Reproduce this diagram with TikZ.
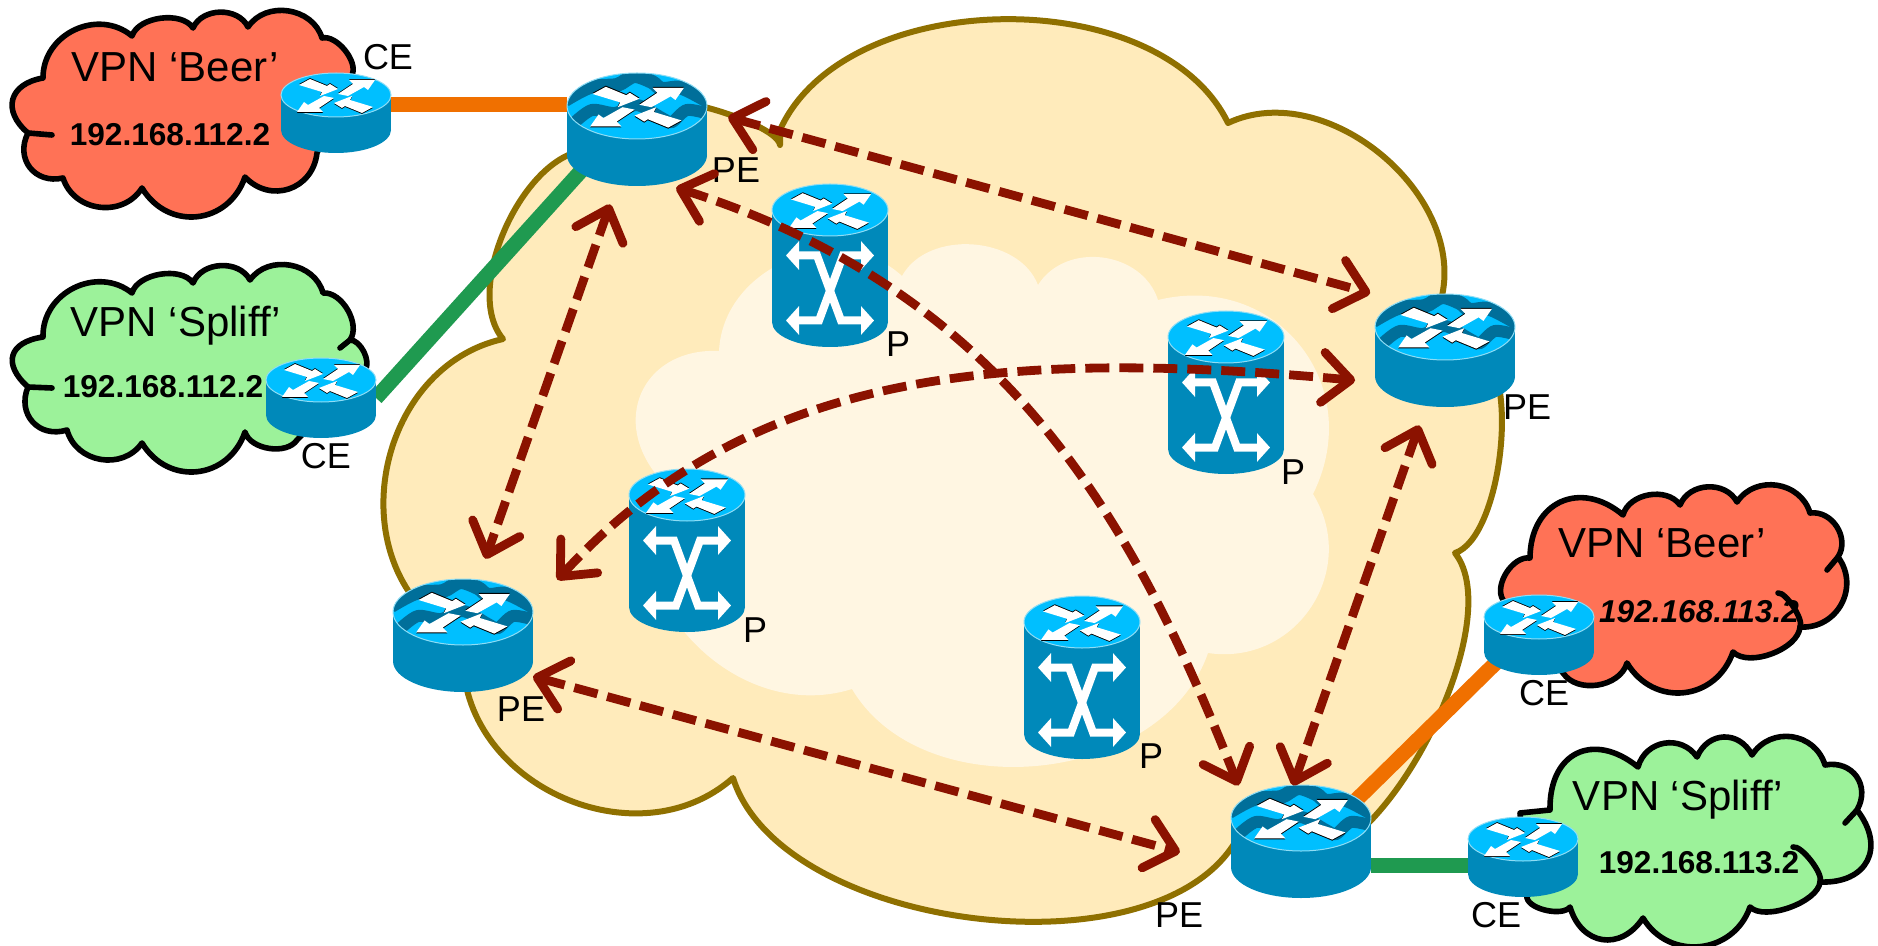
\documentclass[tikz,border=0pt]{standalone}
\usepackage{fontspec}
\setmainfont{Liberation Sans}
\usetikzlibrary{arrows.meta}
\definecolor{coretan}{HTML}{FFEBBB}
\definecolor{coreedge}{HTML}{8F7000}
\definecolor{coreinner}{HTML}{FFF6E2}
\definecolor{vpnred}{HTML}{FF7256}
\definecolor{vpngreen}{HTML}{9CF29A}
\definecolor{linkorange}{HTML}{F07000}
\definecolor{linkgreen}{HTML}{1F9A50}
\definecolor{routertop}{HTML}{00BFFF}
\definecolor{routerside}{HTML}{0089BA}
\definecolor{routerwave}{HTML}{006F9A}
\definecolor{routerrim}{HTML}{8FDDF5}
\definecolor{dashred}{HTML}{8B1200}
\newcommand{\fourarrows}{%
  \foreach \turn/\dy in {0/0,180/-2} {
    \begin{scope}[rotate=\turn,shift={(0,\dy)}]
      \fill[black,shift={(0,-0.9)}] (-37,-10) -- (-26,-16) -- (-9,-9) -- (-6,-11) -- (2,-6) -- (-16,1) -- (-14,-3) -- cycle;
      \fill[white] (-37,-10) -- (-26,-16) -- (-9,-9) -- (-6,-11) -- (2,-6) -- (-16,1) -- (-14,-3) -- cycle;
      \fill[black,shift={(0,-0.9)}] (2,-1) -- (17,-11) -- (13,-15) -- (39,-15) -- (32,-5) -- (28,-8) -- (12,1) -- cycle;
      \fill[white] (2,-1) -- (17,-11) -- (13,-15) -- (39,-15) -- (32,-5) -- (28,-8) -- (12,1) -- cycle;
    \end{scope}
  }%
}
\tikzset{
  lobe/.style={bend left=65,looseness=#1},
  lobe/.default=1.2,
  corecloud/.style={fill=coretan,draw=coreedge,line width=3pt,line join=round},
  redcloud/.style={fill=vpnred,draw=black,line width=2.8pt,line join=round},
  greencloud/.style={fill=vpngreen,draw=black,line width=2.8pt,line join=round},
  blacktail/.style={draw=black,line width=2.8pt,line cap=round},
  thicklink/.style={line width=7.5pt},
  vpnlink/.style={draw=dashred,line width=4.4pt,dash pattern=on 12pt off 5pt,
    >={Straight Barb[length=14pt,width=25pt,round]},<->},
  vpntext/.style={anchor=base,inner sep=0pt,font=\fontsize{21}{24}\selectfont},
  iptext/.style={anchor=base,inner sep=0pt,font=\fontsize{15.8}{18}\selectfont\bfseries},
  roletext/.style={anchor=base,inner sep=0pt,font=\fontsize{18}{20}\selectfont},
  pebox/.style={inner sep=0pt,outer sep=0pt,minimum width=70pt,minimum height=56.5pt},
  cebox/.style={inner sep=0pt,outer sep=0pt,minimum width=55pt,minimum height=39.5pt},
  pbox/.style={inner sep=0pt,outer sep=0pt,minimum width=58pt,minimum height=81.5pt},
  cerouter/.pic={
    \fill[routerside] (0,17) ellipse [x radius=55,y radius=23];
    \fill[routerside] (-55,-18) rectangle (55,17);
    \draw[routerrim,line width=0.5pt,fill=routertop] (0,-18) ellipse [x radius=55,y radius=22];
    \begin{scope}[shift={(0,-18)}]
      \fourarrows
    \end{scope}
  },
  perouter/.pic={
    \fill[routerside] (0,25) ellipse [x radius=70,y radius=31];
    \fill[routerside] (-70,-24) rectangle (70,25);
    \fill[routertop] (0,-24) ellipse [x radius=70,y radius=33];
    \begin{scope}
      \clip (0,-24) ellipse [x radius=70,y radius=33];
      \draw[routerwave,line width=7pt] plot[smooth] coordinates {(-72,-30) (-47,-43) (-20,-45) (-3,-54) (15,-48) (25,-41) (45,-42) (72,-28)};
      \draw[routerwave,line width=6pt] plot[smooth] coordinates {(-62,-8) (-45,-20) (-22,-17) (0,-25) (25,-12) (35,-8) (50,-20) (72,-16)};
    \end{scope}
    \draw[routerrim,line width=0.5pt] (0,-24) ellipse [x radius=70,y radius=33];
    \begin{scope}[shift={(0,-24)},scale=1.2]
      \fourarrows
    \end{scope}
  },
  prouter/.pic={
    \fill[routerside] (0,56.5) ellipse [x radius=58,y radius=25];
    \fill[routerside] (-58,-55.5) rectangle (58,56.5);
    \draw[routerrim,line width=0.5pt,fill=routertop] (0,-55.5) ellipse [x radius=58,y radius=26];
    \begin{scope}[shift={(0,-55.5)},scale=1.05]
      \fourarrows
    \end{scope}
    \draw[white,line width=4pt,{Triangle[length=6.5pt,width=14pt]}-{Triangle[length=6.5pt,width=14pt]}]
      (-44,-10) -- (-13,-10) -- (11,55) -- (44,55);
    \draw[white,line width=4pt,{Triangle[length=6.5pt,width=14pt]}-{Triangle[length=6.5pt,width=14pt]}]
      (44,-10) -- (13,-10) -- (-11,55) -- (-44,55);
  }
}
\begin{document}
\begin{tikzpicture}[x=0.5pt,y=-0.5pt]
  \useasboundingbox (0,0) rectangle (1878,946);

  \draw[corecloud] (780,130) to[lobe=0.9] (1228,123) to[lobe=1] (1441,300)
    -- (1480,350) to[lobe=0.6] (1455,553) to[lobe=0.65] (1300,860)
    -- (1234,844) to[lobe=0.8] (733,778) to[lobe=1.1] (463,660)
    -- (440,625) to[lobe=1.1] (503,339) to[lobe=0.8] (590,150)
    -- (650,105) to[lobe=0.4] (780,145) -- cycle;
  \fill[coreinner] (719,351) to[lobe=1.1] (902,276) to[lobe=1] (1038,285) to[lobe=1.1] (1158,300)
    to[lobe=1.25] (1313,494) to[lobe=1.2] (1208,653) to[lobe=1] (852,689)
    to[lobe=1.1] (655,473) to[lobe=1.35] (719,351) -- cycle;

  \draw[redcloud] (43,78) to[lobe=1.15] (132,36) to[lobe=0.85] (193,28) to[lobe=1.05] (248,27)
    to[lobe=1.1] (322,38) to[lobe=0.8] (352,75) -- (317,153) to[lobe=1.25] (245,177)
    to[lobe=1.25] (142,188) to[lobe=1.15] (63,178) to[lobe=1.3] (28,133) to[lobe=1.55] (43,78) -- cycle;
  \draw[blacktail] (28,133) -- (52,135);
  \draw[greencloud] (43,337) to[lobe=1.15] (132,293) to[lobe=0.85] (193,283) to[lobe=1.05] (250,280)
    to[lobe=1.1] (323,293) to[lobe=0.9] (350,340) to[lobe=0.8] (365,370) -- (297,440) to[lobe=0.9] (245,432)
    to[lobe=1.25] (142,443) to[lobe=1.15] (67,430) to[lobe=1.3] (28,387) to[lobe=1.7] (43,337) -- cycle;
  \draw[blacktail] (28,387) -- (52,388);
  \draw[blacktail] (340,348) -- (350,340);
  \draw[redcloud] (1530,558) to[lobe=1.4] (1623,515) to[lobe=1] (1680,505) to[lobe=1.1] (1737,502)
    to[lobe=1.15] (1810,513) to[lobe=1.1] (1838,557) to[lobe=1.2] (1800,627) to[lobe=0.8] (1733,652)
    to[lobe=1.25] (1627,663) to[lobe=1] (1563,673) -- (1503,600) to[lobe=0.9] (1530,558) -- cycle;
  \draw[blacktail] (1827,570) -- (1838,557);
  \draw[blacktail] (1778,593) to[lobe=0.5] (1800,627);
  \draw[greencloud] (1550,810) to[lobe=1.5] (1638,767) to[lobe=1.2] (1697,757) to[lobe=1.3] (1752,755)
    to[lobe=1.2] (1825,765) to[lobe=1.3] (1857,810) to[lobe=1.5] (1820,882) to[lobe=0.7] (1750,907)
    to[lobe=1.2] (1643,918) to[lobe=1.4] (1570,907) to[lobe=0.7] (1527,898) -- (1520,813) -- cycle;
  \draw[blacktail] (1845,823) -- (1857,810);
  \draw[blacktail] (1793,847) to[lobe=0.5] (1820,882);

  \foreach \name/\px/\py in {pea/637/130, peb/1445/351, pec/463/636, ped/1301/842} {
    \node[pebox] (\name) at (\px,\py) {};
  }
  \foreach \name/\px/\py in {cea/336/113, ceb/321/398, cec/1539/635, ced/1523/857} {
    \node[cebox] (\name) at (\px,\py) {};
  }
  \foreach \name/\px/\py in {pa/830/265.5, pb/1226/392.5, pc/687/550.5, pd/1082/677.5} {
    \node[pbox] (\name) at (\px,\py) {};
  }

  \draw[linkorange,thicklink] ([yshift=4pt]cea.east) -- ([yshift=12.5pt]pea.west);
  \draw[linkgreen,thicklink,shorten >=-12pt] (ceb.east) -- (pea.south west);
  \draw[linkorange,thicklink,shorten <=-12pt,shorten >=-10pt] (ped.north east) -- (cec.south west);
  \draw[linkgreen,thicklink] ([yshift=-11.5pt]ped.east) -- ([yshift=-4pt]ced.west);

  \foreach \name in {pea,peb,pec,ped} { \pic at (\name) {perouter}; }
  \foreach \name in {cea,ceb,cec,ced} { \pic at (\name) {cerouter}; }
  \foreach \name in {pa,pb,pc,pd} { \pic at (\name) {prouter}; }

  \node[vpntext] (beera) at (175,82) {VPN ‘Beer’};
  \node[iptext] (ipbeera) at (170,146) {192.168.112.2};
  \node[vpntext] (spliffa) at (176,337) {VPN ‘Spliff’};
  \node[iptext] (ipspliffa) at (163,398) {192.168.112.2};
  \node[vpntext] (beerb) at (1662,557) {VPN ‘Beer’};
  \node[iptext,font=\fontsize{15.8}{18}\selectfont\bfseries\itshape] (ipbeerb) at (1699,622) {192.168.113.2};
  \node[vpntext] (spliffb) at (1678,810) {VPN ‘Spliff’};
  \node[iptext] (ipspliffb) at (1699,873) {192.168.113.2};

  \node[roletext] (lcea) at (388,70) {CE};
  \node[roletext] (lceb) at (326,468) {CE};
  \node[roletext] (lcec) at (1544,705) {CE};
  \node[roletext] (lced) at (1496,927) {CE};
  \node[roletext] (lpea) at (736,183) {PE};
  \node[roletext] (lpeb) at (1527,420) {PE};
  \node[roletext] (lpec) at (521,721) {PE};
  \node[roletext] (lped) at (1179,927) {PE};
  \node[roletext] (lpa) at (898,357) {P};
  \node[roletext] (lpb) at (1293,484) {P};
  \node[roletext] (lpc) at (755,642) {P};
  \node[roletext] (lpd) at (1151,768) {P};

  \draw[vpnlink,shorten <=11pt,shorten >=2.5pt] (pea.15) -- (peb.north west);
  \draw[vpnlink,shorten <=9.5pt,shorten >=11pt] (pea.250) -- (pec.75);
  \draw[vpnlink,shorten >=26.5pt] (pec.330) -- (ped.199);
  \draw[vpnlink,shorten <=9.5pt] (peb.251) -- (ped.98);
  \draw[vpnlink,shorten <=2pt] (pea.302) .. controls (1000,290) and (1130,510) .. (ped.138);
  \draw[vpnlink,shorten <=18pt,shorten >=10pt] (pec.23) .. controls (750,370) and (1000,348) .. (peb.204);
\end{tikzpicture}
\end{document}
